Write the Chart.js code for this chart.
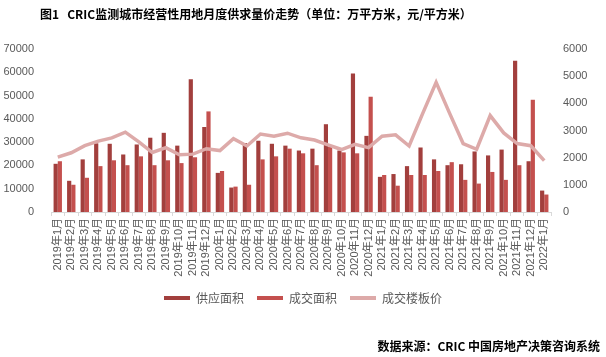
<!DOCTYPE html>
<html>
<head>
<meta charset="utf-8">
<script src="https://cdn.jsdelivr.net/npm/chart.js@4"></script>
<style>
  html, body { margin:0; padding:0; background:#fff; }
  #wrap { position:relative; width:606px; height:357px; overflow:hidden; }
  #title { position:absolute; left:40px; top:5px; font:bold 12px "Noto Sans CJK SC", "Liberation Serif", serif; color:#000; white-space:nowrap; }
  #source { position:absolute; right:6px; top:337px; font:bold 12px "Noto Sans CJK SC", sans-serif; color:#000; white-space:nowrap; }
  canvas { position:absolute; left:0; top:0; }
</style>
</head>
<body>
<div id="wrap">
  <canvas id="c" width="606" height="357"></canvas>
  <div id="title">图1&nbsp;&nbsp;&nbsp;CRIC监测城市经营性用地月度供求量价走势（单位：万平方米，元/平方米）</div>
  <div id="source">数据来源：CRIC 中国房地产决策咨询系统</div>
</div>
<script>
const categories = [
  "2019年1月","2019年2月","2019年3月","2019年4月","2019年5月","2019年6月","2019年7月","2019年8月","2019年9月","2019年10月","2019年11月","2019年12月",
  "2020年1月","2020年2月","2020年3月","2020年4月","2020年5月","2020年6月","2020年7月","2020年8月","2020年9月","2020年10月","2020年11月","2020年12月",
  "2021年1月","2021年2月","2021年3月","2021年4月","2021年5月","2021年6月","2021年7月","2021年8月","2021年9月","2021年10月","2021年11月","2021年12月",
  "2022年1月"
];
const supplyArea = [20700,13400,22600,29500,29300,24700,29000,31900,34000,28500,57000,36500,
  16800,10500,29600,30600,29300,28500,26400,27200,37700,26400,59500,32700,
  15100,16300,19700,27700,22600,20100,20500,26000,24300,26800,65000,21800,
  9200];
const dealArea = [21800,11700,14700,19700,22200,20100,23900,20100,22200,21000,23500,43200,
  17600,10900,11700,22600,23900,27200,25200,20100,28100,25600,25200,49500,
  15900,11300,15900,15900,17600,21400,13800,12200,17200,13800,20100,48200,
  7500];
const floorPrice = [2020,2180,2440,2610,2730,2940,2580,2190,2370,2110,2130,2330,
  2260,2700,2430,2870,2790,2900,2730,2650,2470,2300,2490,2370,
  2790,2840,2430,3620,4770,3630,2520,2310,3550,2910,2520,2440,
  1890];
const seriesNames = ["供应面积","成交面积","成交楼板价"];
const leftTicks = [0,10000,20000,30000,40000,50000,60000,70000];
const rightTicks = [0,1000,2000,3000,4000,5000,6000];

const tickFont = { family: '"Liberation Sans", "Noto Sans CJK SC", sans-serif', size: 11 };
const plain = v => String(v);

new Chart(document.getElementById('c'), {
  type: 'bar',
  data: {
    labels: categories,
    datasets: [
      { label: seriesNames[0], data: supplyArea, backgroundColor: '#A23F3D', yAxisID: 'y', order: 1,
        categoryPercentage: 0.62, barPercentage: 1.0 },
      { label: seriesNames[1], data: dealArea, backgroundColor: '#C4504E', yAxisID: 'y', order: 1,
        categoryPercentage: 0.62, barPercentage: 1.0 },
      { label: seriesNames[2], data: floorPrice, type: 'line', borderColor: '#DDAAA9', backgroundColor: '#DDAAA9',
        borderWidth: 3.5, pointRadius: 0, tension: 0, yAxisID: 'y2', order: 0 }
    ]
  },
  options: {
    responsive: false,
    animation: false,
    layout: { padding: { top: 49, bottom: 43, left: 0, right: 0 } },
    plugins: {
      title: { display: false },
      tooltip: { enabled: false },
      legend: {
        position: 'bottom',
        labels: {
          font: { family: '"Noto Sans CJK SC", sans-serif', size: 12 },
          color: '#595959',
          boxWidth: 26,
          boxHeight: 4,
          padding: 13,
          sort: (a, b) => a.datasetIndex - b.datasetIndex,
          generateLabels: (chart) => {
            const items = Chart.defaults.plugins.legend.labels.generateLabels(chart);
            items.forEach(it => { it.lineWidth = 0; });
            return items;
          }
        }
      }
    },
    scales: {
      x: {
        grid: { display: true, drawOnChartArea: false, color: '#D9D9D9', tickLength: 4, offset: true },
        border: { color: '#D9D9D9' },
        ticks: { autoSkip: false, maxRotation: 90, minRotation: 90, padding: 2, color: '#595959', font: tickFont },
        afterFit: s => { s.height = 67; }
      },
      y: {
        position: 'left',
        min: 0, max: 70000,
        afterBuildTicks: s => { s.ticks = leftTicks.map(v => ({ value: v })); },
        grid: { display: false, drawTicks: false },
        border: { display: false },
        ticks: { padding: 17, color: '#595959', font: tickFont, callback: plain },
        afterFit: s => { s.width = 51; }
      },
      y2: {
        position: 'right',
        min: 0, max: 6000,
        afterBuildTicks: s => { s.ticks = rightTicks.map(v => ({ value: v })); },
        grid: { display: false, drawTicks: false },
        border: { display: false },
        ticks: { padding: 12, color: '#595959', font: tickFont, callback: plain },
        afterFit: s => { s.width = 55; }
      }
    }
  }
});
</script>
</body>
</html>
